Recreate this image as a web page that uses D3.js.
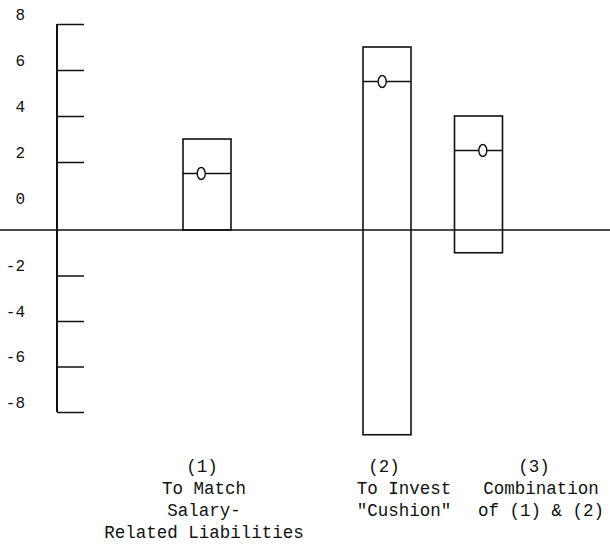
<!DOCTYPE html>
<html>
<head>
<meta charset="utf-8">
<script src="https://cdn.jsdelivr.net/npm/d3@7/dist/d3.min.js"></script>
<style>
  html, body { margin: 0; padding: 0; background: #fff; }
  svg { display: block; }
  text { font-family: "Liberation Mono", "DejaVu Sans Mono", monospace; fill: #111; }
</style>
</head>
<body>
<svg id="chart" width="610" height="548"></svg>
<script>
// ---- data ----
const categories = ["(1)", "(2)", "(3)"];
const highValues = [3.0, 7.0, 4.0];
const lowValues  = [0.0, -9.0, -1.0];
const meanValues = [1.5, 5.5, 2.5];
const labelLines = [
  ["To Match", "Salary-", "Related Liabilities"],
  ["To Invest", "\"Cushion\""],
  ["Combination", "of (1) & (2)"]
];
const posTicks = [2, 4, 6, 8];
const negTicks = [-8, -6, -4, -2];
const posLabels = [0, 2, 4, 6, 8];
const negLabels = [-8, -6, -4, -2];

// ---- layout ----
const svg = d3.select("#chart");
const axisX = 57;
// the scanned original has its upper half shifted; two linear pieces reproduce it
const yPos = d3.scaleLinear().domain([0, 8]).range([208, 24]);
const yNeg = d3.scaleLinear().domain([-8, 0]).range([412, 230]);
const y = v => (v > 0 ? yPos(v) : yNeg(v));

const barX = d3.scaleOrdinal().domain(categories).range([207, 387, 478.5]);
const barW = 48;
const markerFrac = [0.38, 0.40, 0.59];
const headX = d3.scaleOrdinal().domain(categories).range([202, 384, 534]);
const bodyX = d3.scaleOrdinal().domain(categories).range([204, 404, 541]);

// zero line
svg.append("line")
  .attr("x1", 0).attr("x2", 610)
  .attr("y1", yNeg(0)).attr("y2", yNeg(0))
  .attr("stroke", "#111").attr("stroke-width", 1.3);

// vertical axis line
svg.append("line")
  .attr("x1", axisX).attr("x2", axisX)
  .attr("y1", yPos(8)).attr("y2", yNeg(-8))
  .attr("stroke", "#111").attr("stroke-width", 2);

// ticks (pointing right)
const tickAxisPos = d3.axisRight(yPos).tickValues(posTicks).tickSize(27).tickFormat("");
const tickAxisNeg = d3.axisRight(yNeg).tickValues(negTicks).tickSize(27).tickFormat("");
[tickAxisPos, tickAxisNeg].forEach(ax => {
  const g = svg.append("g").attr("transform", `translate(${axisX},0)`).call(ax);
  g.select(".domain").remove();
  g.selectAll(".tick line").attr("stroke", "#111").attr("stroke-width", 1.5);
});

// tick labels (sit above their tick marks as in the original)
const fmt = d => String(d);
const labAxisPos = d3.axisLeft(yPos).tickValues(posLabels).tickSize(0).tickPadding(0).tickFormat(fmt);
const labAxisNeg = d3.axisLeft(yNeg).tickValues(negLabels).tickSize(0).tickPadding(0).tickFormat(fmt);
[labAxisPos, labAxisNeg].forEach(ax => {
  const g = svg.append("g").attr("transform", "translate(25,-10)").call(ax);
  g.select(".domain").remove();
  g.selectAll(".tick line").remove();
  g.selectAll(".tick text")
    .attr("font-family", "Liberation Mono, monospace")
    .attr("font-size", 16).attr("fill", "#111");
});

// bars
const data = categories.map((c, i) => ({
  c, hi: highValues[i], lo: lowValues[i], mean: meanValues[i], lines: labelLines[i], i
}));

const bars = svg.append("g").selectAll("g").data(data).join("g");
bars.append("rect")
  .attr("x", d => barX(d.c) - barW / 2)
  .attr("width", barW)
  .attr("y", d => y(d.hi))
  .attr("height", d => y(d.lo) - y(d.hi))
  .attr("fill", "none")
  .attr("stroke", "#111")
  .attr("stroke-width", 1.6);

bars.append("line")
  .attr("x1", d => barX(d.c) - barW / 2)
  .attr("x2", d => barX(d.c) + barW / 2)
  .attr("y1", d => y(d.mean)).attr("y2", d => y(d.mean))
  .attr("stroke", "#111").attr("stroke-width", 1.4);

bars.append("ellipse")
  .attr("cx", d => barX(d.c) - barW / 2 + barW * markerFrac[d.i])
  .attr("cy", d => y(d.mean))
  .attr("rx", 4).attr("ry", 6)
  .attr("fill", "#fff").attr("stroke", "#111").attr("stroke-width", 1.4);

// category labels
const lab = svg.append("g").selectAll("g").data(data).join("g");
lab.append("text")
  .attr("x", d => headX(d.c))
  .attr("y", 472)
  .attr("text-anchor", "middle")
  .attr("font-size", 17.5)
  .text(d => d.c);
lab.each(function(d) {
  d3.select(this).selectAll("text.body").data(d.lines).join("text")
    .attr("class", "body")
    .attr("x", bodyX(d.c))
    .attr("y", (t, j) => 494 + j * 22)
    .attr("text-anchor", "middle")
    .attr("font-size", 17.5)
    .text(t => t);
});
</script>
</body>
</html>
